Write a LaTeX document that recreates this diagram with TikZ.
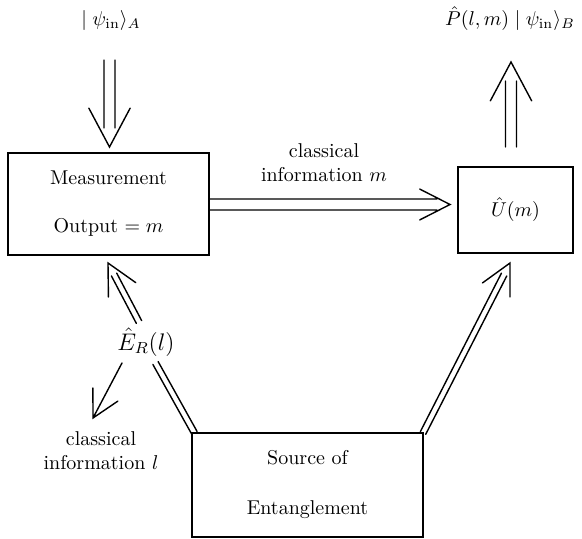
\documentclass[tikz,border=0pt]{standalone}
\usetikzlibrary{calc}
\tikzset{
  Dsep/.store in=\Dsep, Dshort/.store in=\Dshort, Alen/.store in=\Alen, Aang/.store in=\Aang,
  Dsep=2.75pt, Dshort=6.5pt, Alen=17pt, Aang=27,
  conn/.style={line width=0.7pt, line cap=round, line join=miter},
  box/.style={draw, line width=0.75pt, inner sep=0pt, align=center},
  lbl/.style={inner sep=1pt, align=center},
  dblarrow/.style={conn, to path={
     ($(\tikztostart)!\Dsep!90:(\tikztotarget)$) -- ($(\tikztotarget)!\Dshort!(\tikztostart)!\Dsep!-90:(\tikztostart)$)
     ($(\tikztostart)!\Dsep!-90:(\tikztotarget)$) -- ($(\tikztotarget)!\Dshort!(\tikztostart)!\Dsep!90:(\tikztostart)$)
     ($(\tikztotarget)!\Alen!\Aang:(\tikztostart)$) -- (\tikztotarget) -- ($(\tikztotarget)!\Alen!-\Aang:(\tikztostart)$)
  }},
  dblline/.style={conn, to path={
     ($(\tikztostart)!\Dsep!90:(\tikztotarget)$) -- ($(\tikztotarget)!\Dsep!-90:(\tikztostart)$)
     ($(\tikztostart)!\Dsep!-90:(\tikztotarget)$) -- ($(\tikztotarget)!\Dsep!90:(\tikztostart)$)
  }},
  sglarrow/.style={conn, to path={
     (\tikztostart) -- (\tikztotarget)
     ($(\tikztotarget)!\Alen!\Aang:(\tikztostart)$) -- (\tikztotarget) -- ($(\tikztotarget)!\Alen!-\Aang:(\tikztostart)$)
  }},
  bigtip/.style={Dsep=2.75pt, Dshort=9.5pt, Alen=22pt, Aang=28},
  diag/.style={Dsep=1.5pt, Dshort=6.5pt, Alen=17pt, Aang=27},
}
\begin{document}
\begin{tikzpicture}[x=0.5pt, y=-0.5pt]
  \useasboundingbox (0,0) rectangle (582,539);

  % boxes
  \node[box, minimum width=100.5pt, minimum height=51pt] (M) at (108.5,204)
       {Measurement\\[12pt]Output $= m$};
  \node[box, minimum width=57.5pt, minimum height=43pt] (U) at (515.5,210) {$\hat U(m)$};
  \node[box, minimum width=115.5pt, minimum height=52pt] (S) at (307.5,485)
       {Source of\\[13pt]Entanglement};

  % labels
  \node[lbl] (inA) at (111,21) {$\mid\psi_{\mathrm{in}}\rangle_A$};
  \node[lbl] (outB) at (510,19) {$\hat P(l,m)\mid\psi_{\mathrm{in}}\rangle_B$};
  \node[lbl] (infm) at (324,163) {classical\\information $m$};
  \node[lbl] (ER) at (146,342) {\large $\hat E_R(l)$};
  \node[lbl] (infl) at (101,451) {classical\\information $l$};

  % connector end points
  \coordinate (a1) at (109.5,60);
  \coordinate (a2) at (109.5,147);
  \coordinate (b1) at (511,147);
  \coordinate (b2) at (511,62);
  \coordinate (c1) at (209,204.5);
  \coordinate (c2) at (450,204.5);
  \coordinate (e1) at (139,322);
  \coordinate (e2) at (108,263);
  \coordinate (f1) at (155.5,363);
  \coordinate (f2) at (194.5,433);
  \coordinate (g1) at (423,433);
  \coordinate (g2) at (510,263);
  \coordinate (h1) at (122,363);
  \coordinate (h2) at (93,418);

  % connectors
  \draw[dblarrow, bigtip] (a1) to (a2);
  \draw[dblarrow, bigtip] (b1) to (b2);
  \draw[dblarrow] (c1) to (c2);
  \draw[dblarrow, diag] (e1) to (e2);
  \draw[dblline, diag] (f1) to (f2);
  \draw[dblarrow, diag] (g1) to (g2);
  \draw[sglarrow, Alen=15pt, Aang=28] (h1) to (h2);
\end{tikzpicture}
\end{document}
